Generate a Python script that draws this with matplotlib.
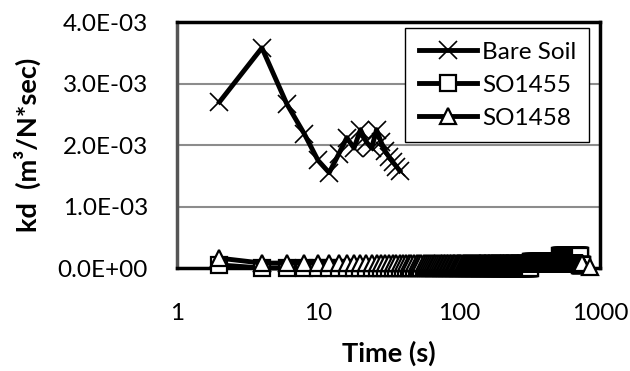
import numpy as np
import matplotlib
matplotlib.use("Agg")
import matplotlib.pyplot as plt
from matplotlib.ticker import FuncFormatter, FixedLocator, NullLocator

plt.rcParams['font.family'] = ['Lato', 'DejaVu Sans']

# Bare soil: sampled every 2 s up to 38 s
bare_time = [2, 4, 6, 8, 10, 12, 14, 16, 18, 20, 22, 24, 26, 28, 30, 32, 34, 36, 38]
bare_kd = [2.70e-3, 3.58e-3, 2.67e-3, 2.18e-3, 1.75e-3, 1.55e-3, 1.85e-3,
           2.12e-3, 1.95e-3, 2.25e-3, 2.05e-3, 1.95e-3, 2.25e-3, 2.05e-3,
           1.90e-3, 1.80e-3, 1.72e-3, 1.65e-3, 1.58e-3]

# Treated soils: sampled every 2 s (values read as flat runs)
so_time = np.arange(2, 748, 2)
so1455_kd = ([0.05e-3] + [0.0] * 159 + [0.10e-3] * 100
             + [0.19e-3] * 100 + [0.05e-3] * 13)
so1458_time = np.append(so_time, 846)
so1458_kd = [0.16e-3] + [0.08e-3] * 372 + [0.02e-3]

x_ticks = [1, 10, 100, 1000]
y_ticks = [0, 1e-3, 2e-3, 3e-3, 4e-3]

fig = plt.figure(figsize=(6.3, 3.71), dpi=100)
ax = fig.add_axes([0.281, 0.2776, 0.6714, 0.663])

ax.plot(bare_time, bare_kd, color='black', lw=3.5, marker='x', ms=13,
        mew=1.2, label='Bare Soil', clip_on=False, zorder=3)
ax.plot(so_time, so1455_kd, color='black', lw=3.5, marker='s', ms=11,
        mfc='white', mec='black', mew=1.6, label='SO1455', clip_on=False,
        zorder=4)
ax.plot(so1458_time, so1458_kd, color='black', lw=3.5, marker='^', ms=12,
        mfc='white', mec='black', mew=1.6, label='SO1458', clip_on=False,
        zorder=5)

ax.set_xscale('log')
ax.set_xlim(1, 1000)
ax.set_ylim(0, 4e-3)
ax.xaxis.set_major_locator(FixedLocator(x_ticks))
ax.xaxis.set_minor_locator(NullLocator())
ax.xaxis.set_major_formatter(FuncFormatter(lambda v, p: f"{v:g}"))
ax.yaxis.set_major_locator(FixedLocator(y_ticks))
ax.yaxis.set_major_formatter(FuncFormatter(lambda v, p: f"{v:.1E}"))
ax.tick_params(axis='both', length=0, labelsize=17.5)
ax.tick_params(axis='y', pad=21)
ax.tick_params(axis='x', pad=25)

ax.grid(axis='y', color='#8c8c8c', lw=1.5)
ax.set_axisbelow(True)

for side in ['top', 'right', 'bottom']:
    ax.spines[side].set_color('black')
    ax.spines[side].set_linewidth(2.5)
ax.spines['left'].set_color('#555555')
ax.spines['left'].set_linewidth(2.5)

ax.set_xlabel('Time (s)', fontsize=19.5, fontweight='bold', labelpad=12)
ax.set_ylabel('kd  (m³/N*sec)', fontsize=19.5, fontweight='bold', labelpad=12)

leg = ax.legend(loc='upper right', bbox_to_anchor=(0.975, 0.975), borderaxespad=0,
                fontsize=17.5, frameon=True, fancybox=False, framealpha=1,
                edgecolor='black', handlelength=2.4, handletextpad=0.2,
                labelspacing=0.5, borderpad=0.55)
leg.get_frame().set_linewidth(1.0)
leg.set_zorder(10)

fig.savefig('out.png', dpi=100)
